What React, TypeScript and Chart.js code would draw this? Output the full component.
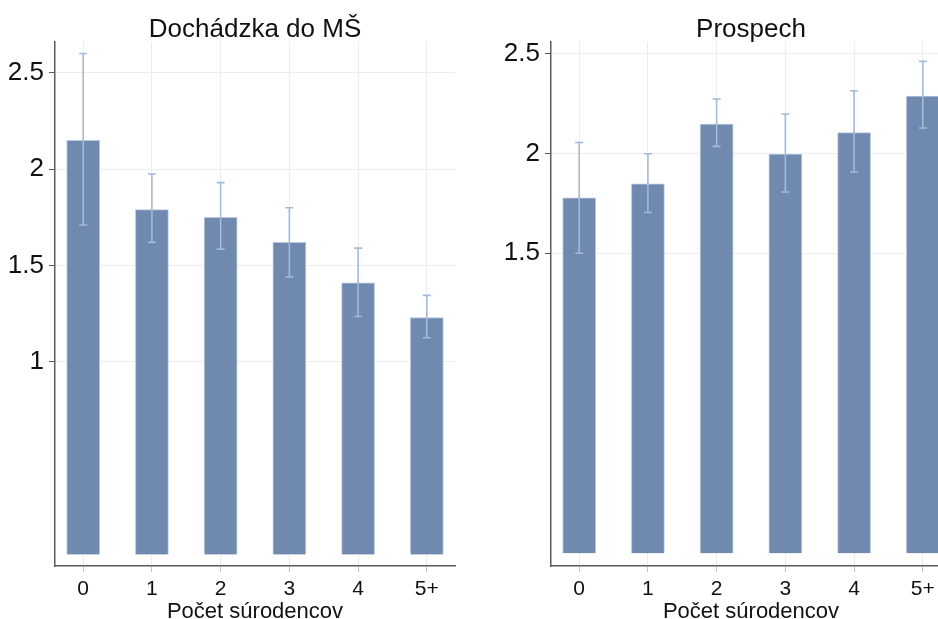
import React, { useEffect, useRef } from "react";
import { Chart, registerables } from "chart.js";

Chart.register(...registerables);

const categories = ["0", "1", "2", "3", "4", "5+"];

const attendanceMeans = [2.15, 1.79, 1.75, 1.62, 1.41, 1.23];
const attendanceLow = [1.71, 1.62, 1.585, 1.44, 1.235, 1.125];
const attendanceHigh = [2.6, 1.975, 1.93, 1.8, 1.59, 1.345];
const attendanceTicks = [1, 1.5, 2, 2.5];

const gradeMeans = [1.777, 1.847, 2.147, 1.997, 2.104, 2.286];
const gradeLow = [1.5, 1.704, 2.035, 1.807, 1.907, 2.127];
const gradeHigh = [2.054, 1.998, 2.272, 2.197, 2.313, 2.46];
const gradeTicks = [1.5, 2, 2.5];

const FONT = "'Liberation Sans', Arial, sans-serif";

const errorBarPlugin = {
  id: "errorBars",
  afterDatasetsDraw(chart: any, _args: any, opts: any) {
    const { ctx } = chart;
    const meta = chart.getDatasetMeta(0);
    const y = chart.scales.y;
    ctx.save();
    ctx.strokeStyle = "#a5b9d8";
    ctx.lineWidth = 1.6;
    meta.data.forEach((el: any, i: number) => {
      const x = el.x;
      const yHi = y.getPixelForValue(opts.high[i]);
      const yLo = y.getPixelForValue(opts.low[i]);
      const cap = 4;
      ctx.beginPath();
      ctx.moveTo(x, yHi);
      ctx.lineTo(x, yLo);
      ctx.moveTo(x - cap, yHi);
      ctx.lineTo(x + cap, yHi);
      ctx.moveTo(x - cap, yLo);
      ctx.lineTo(x + cap, yLo);
      ctx.stroke();
    });
    ctx.restore();
  },
};

type PanelProps = {
  title: string;
  means: number[];
  low: number[];
  high: number[];
  ticks: number[];
  yMin: number;
  yMax: number;
  yAxisWidth: number;
  width: number;
  left: number;
};

function Panel(p: PanelProps) {
  const ref = useRef<HTMLCanvasElement>(null);
  useEffect(() => {
    if (!ref.current) return;
    const chart = new Chart(ref.current, {
      type: "bar",
      data: {
        datasets: [
          {
            data: p.means.map((v, i) => ({ x: i, y: v })),
            backgroundColor: "#7089ae",
            borderColor: "#b7c7df",
            borderWidth: 1,
            barThickness: 33,
          } as any,
        ],
      },
      options: {
        animation: false,
        responsive: false,
        maintainAspectRatio: false,
        layout: { padding: { left: 0, right: 15, top: 0, bottom: 0 } },
        plugins: {
          legend: { display: false },
          tooltip: { enabled: false },
          title: {
            display: true,
            text: p.title,
            fullSize: false,
            color: "#111",
            font: { family: FONT, size: 26, weight: "normal", lineHeight: 1.2 },
            padding: { top: 14, bottom: -3.2 },
          },
          errorBars: { low: p.low, high: p.high },
        } as any,
        scales: {
          x: {
            type: "linear",
            min: -0.41,
            max: 5.41,
            offset: false,
            afterBuildTicks: (s: any) => {
              s.ticks = categories.map((_, i) => ({ value: i }));
            },
            afterFit: (s: any) => {
              s.height = 74;
              s.paddingLeft = 0;
              s.paddingRight = 0;
            },
            grid: {
              offset: false,
              color: "#ebedf1",
              tickColor: "#c4c4c4",
              tickLength: 6,
              lineWidth: 1,
            },
            border: { color: "#5a5a5a", width: 1.5 },
            ticks: {
              callback: (v: any) => categories[v as number],
              color: "#111",
              font: { family: FONT, size: 21 },
              padding: 5,
              autoSkip: false,
              maxRotation: 0,
            },
            title: {
              display: true,
              text: "Počet súrodencov",
              color: "#111",
              font: { family: FONT, size: 22, lineHeight: 1.2 },
              padding: { top: 0, bottom: 15 },
            },
          },
          y: {
            min: p.yMin,
            max: p.yMax,
            afterBuildTicks: (s: any) => {
              s.ticks = p.ticks.map((v) => ({ value: v }));
            },
            afterFit: (s: any) => {
              s.width = p.yAxisWidth;
              s.paddingTop = 0;
              s.paddingBottom = 0;
            },
            grid: { color: "#ebedf1", tickColor: "#5a5a5a", tickLength: 6 },
            border: { color: "#5a5a5a", width: 1.5 },
            ticks: {
              color: "#111",
              font: { family: FONT, size: 26 },
              padding: 5,
              callback: (v: any) => String(v),
            },
          },
        } as any,
      },
      plugins: [errorBarPlugin],
    });
    return () => chart.destroy();
  }, []);
  return (
    <canvas
      ref={ref}
      width={p.width}
      height={640}
      style={{ position: "absolute", left: p.left, top: 0, width: p.width, height: 640, display: "block" }}
    />
  );
}

export default function App() {
  return (
    <div
      style={{
        position: "fixed",
        left: 0,
        top: 0,
        width: 938,
        height: 619,
        overflow: "hidden",
        background: "#fff",
      }}
    >
      <Panel
        title="Dochádzka do MŠ"
        means={attendanceMeans}
        low={attendanceLow}
        high={attendanceHigh}
        ticks={attendanceTicks}
        yMin={-0.06}
        yMax={2.66}
        yAxisWidth={55}
        width={470}
        left={0}
      />
      <Panel
        title="Prospech"
        means={gradeMeans}
        low={gradeLow}
        high={gradeHigh}
        ticks={gradeTicks}
        yMin={-0.064}
        yMax={2.557}
        yAxisWidth={81}
        width={496}
        left={470}
      />
    </div>
  );
}
